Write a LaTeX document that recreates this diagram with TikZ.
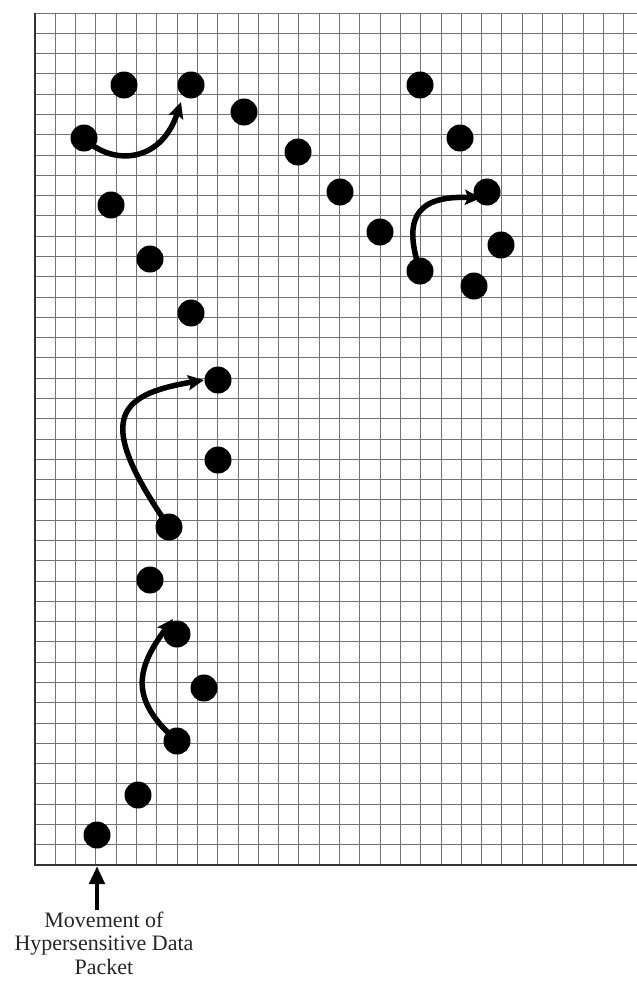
\documentclass[tikz,border=0pt]{standalone}
\usepackage{fontspec}
\setmainfont{Liberation Serif}
\usetikzlibrary{arrows.meta}
\begin{document}
\begin{tikzpicture}[x=1pt,y=-1pt,
  dot/.style={circle,fill=black,inner sep=0pt,minimum size=27pt},
  gridline/.style={draw=black!55,line width=1pt},
  edgeline/.style={draw=black!80,line width=1.3pt},
  movearrow/.style={line width=5.5pt,-{Stealth[length=16pt,width=15pt,inset=3pt]}},
  lbl/.style={font=\fontsize{22}{23.5}\selectfont,align=center,text=black!85}
]
\useasboundingbox (0,0) rectangle (637,985);
\fill[white] (0,0) rectangle (637,985);
% grid
\begin{scope}
\clip (0,0) rectangle (637,985);
\foreach \i in {1,...,30}{
  \pgfmathsetmacro{\xx}{35+\i*20.3}
  \draw[gridline] (\xx,13) -- (\xx,865);
}
\foreach \j in {0,...,41}{
  \pgfmathsetmacro{\yy}{13+\j*20.286}
  \draw[gridline] (35,\yy) -- (650,\yy);
}
\draw[edgeline] (35,13) -- (35,865) -- (650,865);
\end{scope}
% dots
\node[dot] (d1) at (124,85) {};
\node[dot] (d2) at (191,85) {};
\node[dot] (d3) at (84,138) {};
\node[dot] (d4) at (244,112) {};
\node[dot] (d5) at (298,152) {};
\node[dot] (d6) at (340,192) {};
\node[dot] (d7) at (111,205) {};
\node[dot] (d8) at (380,232) {};
\node[dot] (d9) at (150,259) {};
\node[dot] (d10) at (191,313) {};
\node[dot] (d11) at (420,85) {};
\node[dot] (d12) at (460,138) {};
\node[dot] (d13) at (487,192) {};
\node[dot] (d14) at (501,245) {};
\node[dot] (d15) at (420,271) {};
\node[dot] (d16) at (474,286) {};
\node[dot] (d17) at (218,380) {};
\node[dot] (d18) at (218,460) {};
\node[dot] (d19) at (169,527) {};
\node[dot] (d20) at (150,580) {};
\node[dot] (d21) at (177,634) {};
\node[dot] (d22) at (204,688) {};
\node[dot] (d23) at (177,741) {};
\node[dot] (d24) at (138,795) {};
\node[dot] (d25) at (97,835) {};
% movement arrows
\draw[movearrow] (d3.center) .. controls (110,165) and (160,165) .. ([shift={(-10pt,-17pt)}]d2.center);
\draw[movearrow] (d15.center) .. controls (405,225) and (410,195) .. ([shift={(-6pt,-6pt)}]d13.center);
\draw[movearrow] (d19.center) .. controls (95,420) and (115,395) .. ([shift={(-14pt,0pt)}]d17.center);
\draw[movearrow] (d23.center) .. controls (130,700) and (135,670) .. ([shift={(-4pt,15pt)}]d21.center);
% label
\coordinate (gb) at (97,866);
\node[lbl,anchor=north] (lab) at (104,908) {Movement of\\Hypersensitive Data\\Packet};
\draw[line width=4.5pt,-{Triangle[length=18pt,width=15pt]}] ([yshift=-2pt]lab.north -| gb) -- (gb);
\end{tikzpicture}
\end{document}
